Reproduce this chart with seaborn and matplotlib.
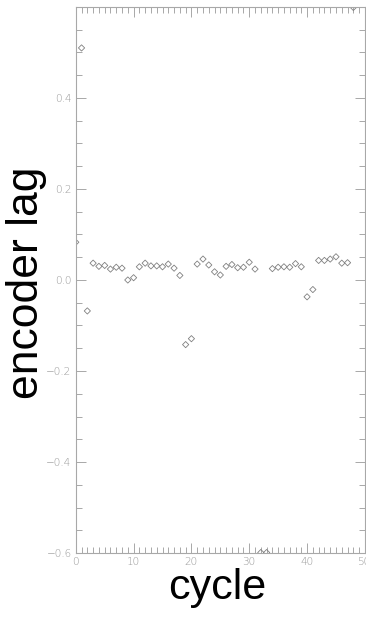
import numpy as np
import pandas as pd
import matplotlib
matplotlib.use("Agg")
import matplotlib.pyplot as plt
import seaborn as sns
from matplotlib.ticker import MultipleLocator, FixedLocator, FixedFormatter

# --- Data ---
# points at cycles 32, 33 and 48 lie outside the plotted range; they are
# kept on the frame so that only half a marker shows, as in the original
cycle = list(range(49))
encoder_lag = [
    0.083, 0.510, -0.068, 0.037, 0.030, 0.032, 0.024, 0.028, 0.026, 0.000,
    0.005, 0.029, 0.037, 0.031, 0.031, 0.029, 0.035, 0.026, 0.010, -0.142,
    -0.129, 0.035, 0.046, 0.033, 0.018, 0.011, 0.030, 0.034, 0.027, 0.028,
    0.039, 0.024, -0.599, -0.599, 0.025, 0.028, 0.029, 0.028, 0.036, 0.029,
    -0.037, -0.021, 0.043, 0.043, 0.046, 0.051, 0.037, 0.038, 0.599,
]
y_ticks = [-0.6, -0.4, -0.2, 0.0, 0.2, 0.4]
y_ticklabels = ["\u22120.6", "\u22120.4", "\u22120.2", "0.0", "0.2", "0.4"]
x_ticks = [0, 10, 20, 30, 40, 50]
x_ticklabels = ["0", "10", "20", "30", "40", "50"]

df = pd.DataFrame({"cycle": cycle, "lag": encoder_lag})

sns.set_style("ticks")
plt.rcParams["font.family"] = ["Liberation Sans", "DejaVu Sans"]

AX_GREY = "#a8a8a8"
MK_GREY = "#808080"

fig = plt.figure(figsize=(3.66, 6.17), dpi=100)
ax = fig.add_axes([0.207, 0.1037, 0.790, 0.885])

sns.scatterplot(
    data=df, x="cycle", y="lag", ax=ax,
    marker="D", s=10, facecolor="none", edgecolor=MK_GREY,
    linewidth=0.6, clip_on=True, legend=False,
)

ax.set_xlim(0, 50)
ax.set_ylim(-0.6, 0.6)

# --- Axis styling (IDL-like inward ticks on all sides) ---
for sp in ax.spines.values():
    sp.set_visible(True)
    sp.set_color(AX_GREY)
    sp.set_linewidth(0.8)

ax.xaxis.set_major_locator(FixedLocator(x_ticks))
ax.xaxis.set_major_formatter(FixedFormatter(x_ticklabels))
ax.xaxis.set_minor_locator(MultipleLocator(1))
ax.yaxis.set_major_locator(FixedLocator(y_ticks))
ax.yaxis.set_major_formatter(FixedFormatter(y_ticklabels))
ax.yaxis.set_minor_locator(MultipleLocator(0.05))

ax.tick_params(which="both", direction="in", top=True, right=True,
               color=AX_GREY, width=0.7, labelcolor="#969696",
               labelsize=7.5)
ax.tick_params(which="major", length=7, pad=3)
ax.tick_params(which="minor", length=4.5)
for lab in ax.get_xticklabels() + ax.get_yticklabels():
    lab.set_family(["DejaVu Sans"])
    lab.set_fontweight("light")

ax.set_xlabel("cycle", fontsize=31, color="black")
ax.set_ylabel("encoder lag", fontsize=32, color="black")
ax.xaxis.set_label_coords(0.49, -0.028)
ax.yaxis.set_label_coords(-0.1, 0.495)

fig.savefig("out.png", dpi=100)
